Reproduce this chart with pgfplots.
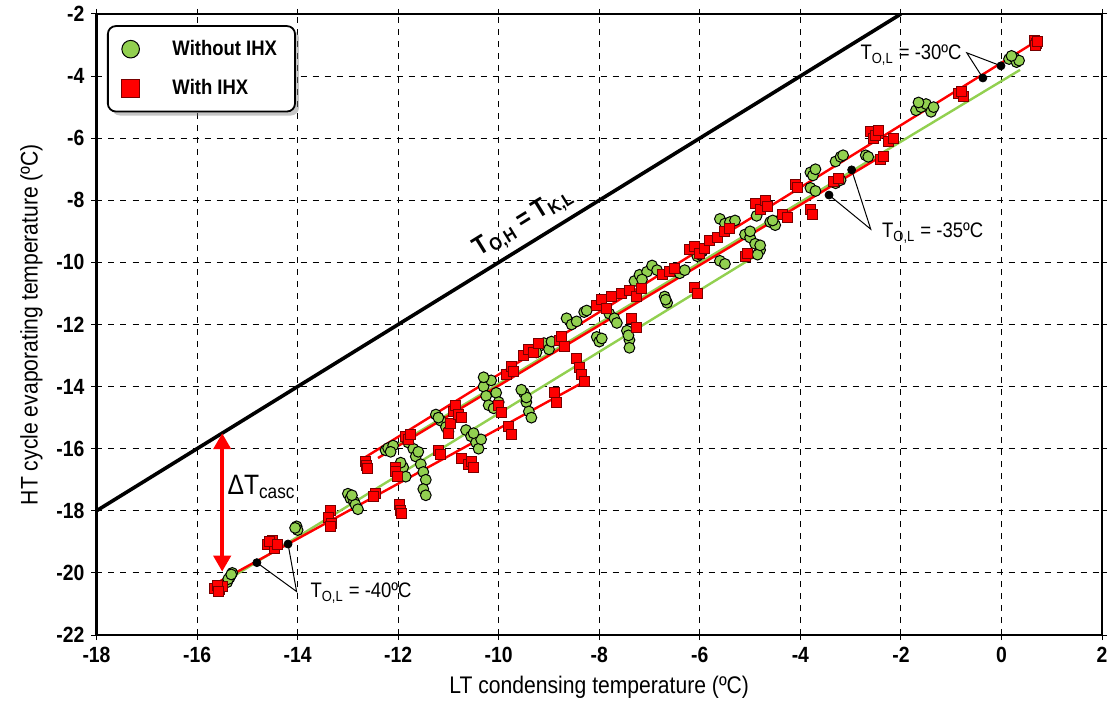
\documentclass[border=0pt]{standalone}
\usepackage{fontspec}
\setmainfont{Liberation Sans}[FakeStretch=0.88]
\usepackage{pgfplots}
\pgfplotsset{compat=1.18}
\usetikzlibrary{arrows.meta,shadows}
\definecolor{lgreen}{RGB}{146,208,80}
\definecolor{dred}{RGB}{120,0,0}
\begin{document}
\begin{tikzpicture}
\path[use as bounding box] (-48.25pt,-41pt) rectangle (507.25pt,317.5pt);
\begin{axis}[
  scale only axis, width=502.75pt, height=310.5pt,
  at={(0,0)}, anchor=south west,
  xmin=-18, xmax=2, ymin=-22, ymax=-2,
  xtick={-18,-16,...,2}, ytick={-22,-20,...,-2},
  grid=major, grid style={dashed, black, line width=0.5pt},
  axis line style={black, line width=1.1pt},
  tick align=outside, major tick length=2.5pt,
  tick style={black, line width=0.5pt},
  /pgf/number format/assume math mode=true,
  ticklabel style={font=\bfseries\fontsize{11}{13}\selectfont},
  xlabel={LT condensing temperature (ºC)},
  ylabel={HT cycle evaporating temperature (ºC)},
  label style={font=\fontsize{12}{14}\selectfont},
  legend image post style={mark size=4.4pt},
  legend style={at={(rel axis cs:0.0104,0.982)}, anchor=north west,
    draw=black, line width=0.9pt, rounded corners=4pt, fill=white,
    drop shadow={shadow xshift=2pt, shadow yshift=-2pt, opacity=0.45},
    font=\bfseries\fontsize{10.5}{12}\selectfont,
    inner xsep=7pt, inner ysep=5pt, row sep=6.5pt,
    /tikz/every odd column/.append style={column sep=14.5pt},
    /tikz/every even column/.append style={column sep=8pt}},
  legend cell align=left,
]
% ---- Without IHX
\addplot[only marks, mark=*, mark size=2.7pt, mark options={fill=lgreen, draw=black, line width=0.5pt}] coordinates {
(-15.4,-20.3) (-15.35,-20.15) (-15.3,-20.0) (-15.38,-20.2) (-15.32,-20.05)
(-14.02,-18.5) (-14.0,-18.62) (-14.05,-18.55)
(-13.0,-17.45) (-12.95,-17.6) (-12.88,-17.7) (-12.85,-17.8) (-12.8,-17.95) (-12.92,-17.5)
(-12.25,-16.05) (-12.2,-15.98) (-12.1,-15.9) (-12.15,-16.1)
(-11.8,-15.8) (-11.7,-16.0) (-11.65,-16.25) (-11.6,-16.1) (-11.55,-16.5) (-11.5,-16.75) (-11.45,-17.0) (-11.5,-17.3) (-11.45,-17.5) (-11.9,-16.6) (-11.85,-16.9) (-11.95,-16.45)
(-11.25,-14.9) (-11.15,-15.1) (-11.05,-15.3) (-11.0,-15.45) (-11.2,-15.0)
(-10.65,-15.4) (-10.55,-15.6) (-10.45,-15.8) (-10.4,-16.0) (-10.35,-15.7) (-10.5,-15.5)
(-10.3,-14.0) (-10.25,-14.3) (-10.2,-14.6) (-10.15,-13.8) (-10.05,-14.2) (-10.0,-14.5) (-10.1,-14.7) (-10.3,-13.7)
(-9.5,-14.2) (-9.45,-14.5) (-9.4,-14.8) (-9.35,-15.0) (-9.45,-14.35) (-9.55,-14.1)
(-9.2,-12.7) (-9.1,-12.6) (-9.0,-12.8) (-8.95,-12.55) (-9.25,-12.9)
(-8.65,-11.8) (-8.55,-12.0) (-8.45,-11.9) (-8.3,-11.6) (-8.25,-11.55)
(-8.05,-12.4) (-8.0,-12.55) (-7.95,-12.45)
(-7.8,-11.65) (-7.7,-11.8) (-7.65,-11.95)
(-7.45,-12.2) (-7.4,-12.5) (-7.4,-12.75) (-7.42,-12.35)
(-7.3,-10.6) (-7.2,-10.4) (-7.05,-10.3) (-6.95,-10.1) (-6.85,-10.25) (-7.15,-10.55)
(-6.7,-11.1) (-6.65,-11.3) (-6.68,-11.2)
(-6.5,-10.2) (-6.4,-10.35) (-6.3,-10.25)
(-6.05,-9.8) (-5.95,-9.65) (-6.0,-9.75)
(-5.6,-8.6) (-5.5,-8.75) (-5.4,-8.7) (-5.3,-8.65)
(-5.6,-9.95) (-5.5,-10.05)
(-5.1,-9.1) (-5.0,-9.2) (-4.9,-9.4) (-4.8,-9.6) (-4.85,-9.75) (-5.0,-9.0) (-4.8,-9.45)
(-4.87,-8.5)
(-4.6,-8.7) (-4.5,-8.8) (-4.55,-8.65)
(-3.8,-7.1) (-3.75,-7.2) (-3.7,-7.0) (-3.8,-7.6) (-3.7,-7.7)
(-3.3,-6.75) (-3.2,-6.6) (-3.15,-6.55)
(-3.3,-7.45) (-3.2,-7.35)
(-2.7,-6.55) (-2.65,-6.6)
(-1.7,-5.1) (-1.6,-5.0) (-1.5,-4.9) (-1.4,-5.15) (-1.35,-5.0) (-1.65,-4.85)
(0.15,-3.45) (0.25,-3.4) (0.3,-3.55) (0.35,-3.5) (0.2,-3.35)
};
\addlegendentry{Without IHX}
% ---- With IHX
\addplot[only marks, mark=square*, mark size=2.5pt, mark options={fill=red, draw=dred, line width=0.5pt}] coordinates {
(-15.65,-20.5) (-15.55,-20.55) (-15.5,-20.45) (-15.6,-20.4) (-15.58,-20.6)
(-14.6,-19.1) (-14.5,-18.95) (-14.45,-19.2) (-14.55,-19.0) (-14.4,-19.1)
(-13.35,-18.0) (-13.38,-18.2) (-13.32,-18.4) (-13.35,-18.5)
(-12.65,-16.4) (-12.62,-16.55) (-12.6,-16.65)
(-12.45,-17.45) (-12.5,-17.55)
(-12.06,-16.6) (-12.05,-16.75) (-12.02,-16.9)
(-11.98,-17.8) (-11.95,-18.0) (-11.93,-18.1)
(-11.85,-15.6) (-11.8,-15.7) (-11.75,-15.55)
(-11.2,-16.05) (-11.15,-16.2)
(-11.0,-15.5) (-10.95,-15.2) (-10.9,-14.8) (-10.85,-14.6) (-10.8,-14.9) (-10.75,-15.0)
(-10.75,-16.3) (-10.6,-16.5) (-10.55,-16.4) (-10.5,-16.6)
(-10.0,-14.6) (-9.95,-14.85)
(-9.8,-15.3) (-9.75,-15.55)
(-9.85,-13.6) (-9.75,-13.35) (-9.7,-13.5)
(-9.5,-13.0) (-9.4,-12.8) (-9.3,-12.9) (-9.2,-12.6)
(-8.9,-14.2) (-8.85,-14.5)
(-8.8,-12.5) (-8.7,-12.7) (-8.75,-12.4)
(-8.45,-13.1) (-8.4,-13.4) (-8.35,-13.6) (-8.3,-13.85)
(-8.05,-11.4) (-7.95,-11.2) (-7.85,-11.5) (-7.75,-11.1)
(-7.55,-11.0) (-7.4,-10.9) (-7.25,-11.1) (-7.15,-10.85)
(-7.35,-11.8) (-7.25,-12.1)
(-6.75,-10.4) (-6.6,-10.3) (-6.5,-10.2)
(-6.2,-9.6) (-6.1,-9.5) (-6.0,-9.7) (-5.9,-9.55)
(-6.1,-10.8) (-6.05,-11.0)
(-5.8,-9.3) (-5.65,-9.2) (-5.5,-9.0) (-5.4,-8.9)
(-5.1,-9.8) (-5.05,-9.7)
(-4.9,-8.1) (-4.8,-8.3) (-4.7,-8.0) (-4.65,-8.2)
(-4.35,-8.45) (-4.25,-8.55)
(-4.1,-7.5) (-4.05,-7.6)
(-3.8,-8.3) (-3.75,-8.45)
(-3.35,-7.4) (-3.25,-7.3)
(-2.6,-5.8) (-2.55,-6.0) (-2.5,-5.9) (-2.45,-5.75)
(-2.4,-6.7) (-2.35,-6.6)
(-2.25,-6.1) (-2.15,-6.0)
(-0.85,-4.55) (-0.75,-4.65) (-0.8,-4.5)
(0.65,-2.85) (0.7,-2.95) (0.68,-3.0) (0.72,-2.9)
};
\addlegendentry{With IHX}
% ---- reference line
\addplot[black, line width=1.8pt, forget plot] coordinates {(-18,-18) (-2,-2)};
% ---- fitted lines
\addplot[lgreen, line width=1.2pt, forget plot] coordinates {(-15.48,-20.31) (-4.8,-9.7)};
\addplot[lgreen, line width=1.2pt, forget plot] coordinates {(-12.3,-16.15) (0.37,-3.8)};
\addplot[red, line width=1.2pt, forget plot] coordinates {(-15.68,-20.39) (-8.25,-13.8)};
\addplot[red, line width=1.2pt, forget plot] coordinates {(-12.4,-16.3) (-2.41,-6.6)};
\addplot[red, line width=1.2pt, forget plot] coordinates {(-12.69,-16.31) (0.70,-2.87)};
% ---- callouts
\addplot[black, line width=0.5pt, forget plot] coordinates {(-0.01,-3.67) (-0.69,-3.25) (-0.37,-4.06)};
\addplot[black, line width=0.5pt, forget plot] coordinates {(-3.43,-7.83) (-2.6,-8.93) (-2.98,-7.02)};
\addplot[black, line width=0.5pt, forget plot] coordinates {(-14.81,-19.67) (-14.02,-20.6) (-14.19,-19.07)};
\addplot[only marks, mark=*, mark size=2pt, black, forget plot] coordinates {
(-0.01,-3.67) (-0.37,-4.06) (-3.43,-7.83) (-2.98,-7.02) (-14.81,-19.67) (-14.19,-19.07)};
% ---- delta T arrow
\addplot[red, line width=2pt, {Triangle[length=8pt,width=8.5pt]}-{Triangle[length=8pt,width=8.5pt]}, forget plot] coordinates {(-15.5,-15.5) (-15.5,-19.96)};
\node[anchor=base west, inner sep=0pt, font=\fontsize{14}{16}\selectfont] at (axis cs:-15.4,-17.46) {ΔT\textsubscript{casc}};
\node[anchor=base west, inner sep=0pt, font=\fontsize{10.5}{12}\selectfont] at (axis cs:-2.81,-3.48) {T\textsubscript{O,L} = -30ºC};
\node[anchor=base west, inner sep=0pt, font=\fontsize{10.5}{12}\selectfont] at (axis cs:-2.38,-9.21) {T\textsubscript{O,L} = -35ºC};
\node[anchor=base west, inner sep=0pt, font=\fontsize{10.5}{12}\selectfont] at (axis cs:-13.75,-20.8) {T\textsubscript{O,L} = -40ºC};
\node[rotate=31.7, inner sep=0pt, font=\bfseries\fontsize{13}{15}\selectfont] at (axis cs:-9.5,-8.72) {T\textsubscript{O,H} = T\textsubscript{K,L}};
\end{axis}
\end{tikzpicture}
\end{document}
